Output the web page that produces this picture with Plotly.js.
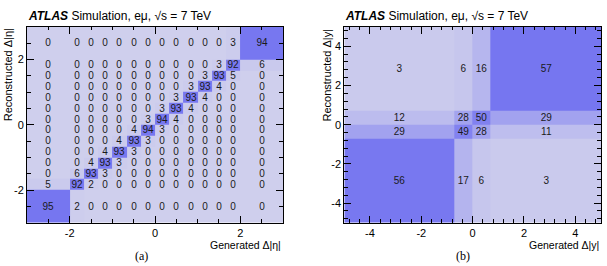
<!DOCTYPE html>
<html>
<head>
<meta charset="utf-8">
<script src="https://cdn.plot.ly/plotly-3.0.1.min.js"></script>
<style>
  html, body { margin: 0; padding: 0; background: #fff; }
  #chart { width: 607px; height: 266px; }
</style>
</head>
<body>
<div id="chart"></div>
<script>
// Migration matrix for Delta|eta| (percent), rows = reconstructed bins (bottom to top)
const etaEdges = [-3, -2, -1.6667, -1.3333, -1, -0.6667, -0.3333, 0,
                  0.3333, 0.6667, 1, 1.3333, 1.6667, 2, 3];
const etaMatrix = [
  [95,  2,  0,  0,  0,  0,  0,  0,  0,  0,  0,  0,  0,  0],
  [ 5, 92,  2,  0,  0,  0,  0,  0,  0,  0,  0,  0,  0,  0],
  [ 0,  6, 93,  3,  0,  0,  0,  0,  0,  0,  0,  0,  0,  0],
  [ 0,  0,  4, 93,  3,  0,  0,  0,  0,  0,  0,  0,  0,  0],
  [ 0,  0,  0,  4, 93,  3,  0,  0,  0,  0,  0,  0,  0,  0],
  [ 0,  0,  0,  0,  4, 93,  3,  0,  0,  0,  0,  0,  0,  0],
  [ 0,  0,  0,  0,  0,  4, 94,  3,  0,  0,  0,  0,  0,  0],
  [ 0,  0,  0,  0,  0,  0,  3, 94,  4,  0,  0,  0,  0,  0],
  [ 0,  0,  0,  0,  0,  0,  0,  3, 93,  4,  0,  0,  0,  0],
  [ 0,  0,  0,  0,  0,  0,  0,  0,  3, 93,  4,  0,  0,  0],
  [ 0,  0,  0,  0,  0,  0,  0,  0,  0,  3, 93,  4,  0,  0],
  [ 0,  0,  0,  0,  0,  0,  0,  0,  0,  0,  3, 93,  5,  0],
  [ 0,  0,  0,  0,  0,  0,  0,  0,  0,  0,  0,  3, 92,  6],
  [ 0,  0,  0,  0,  0,  0,  0,  0,  0,  0,  0,  0,  3, 94]
];

// Migration matrix for Delta|y| (percent)
const yEdges = [-5, -0.7, 0, 0.7, 5];
const yMatrix = [
  [56, 17,  6,  3],
  [29, 49, 28, 11],
  [12, 28, 50, 29],
  [ 3,  6, 16, 57]
];

const etaTicks = [-2, 0, 2];
const yTicks = [-4, -2, 0, 2, 4];

const FONT = 'Liberation Sans, Arial, sans-serif';
const cellScale = [[0, 'rgb(207,207,237)'], [1, 'rgb(118,118,240)']];

function matrixTrace(edges, z, xa, ya, zmax) {
  return {
    type: 'heatmap',
    x: edges, y: edges, z: z,
    xaxis: xa, yaxis: ya,
    colorscale: cellScale, zmin: 0, zmax: zmax,
    showscale: false, hoverinfo: 'skip',
    texttemplate: '%{z}',
    textfont: { family: FONT, size: 10, color: '#1a1a1a' }
  };
}

function axis(domain, range, ticks, minorStep, anchor) {
  return {
    domain: domain, range: range, anchor: anchor,
    tickmode: 'array', tickvals: ticks, ticktext: ticks.map(String),
    ticks: 'inside', ticklen: 7, tickwidth: 1, tickcolor: '#000',
    minor: { dtick: minorStep, ticks: 'inside', ticklen: 3.5, tickcolor: '#000', showgrid: false },
    showline: true, linecolor: '#000', linewidth: 1, mirror: 'ticks',
    showgrid: false, zeroline: false,
    tickfont: { family: FONT, size: 11, color: '#000' }
  };
}

const yDom = [0.1628, 0.8996];
const xDomA = [0.0445, 0.4662];
const xDomB = [0.5672, 0.9901];

const data = [
  matrixTrace(etaEdges, etaMatrix, 'x', 'y', 95),
  matrixTrace(yEdges, yMatrix, 'x2', 'y2', 57)
];

const titleText = '<b><i>ATLAS</i></b> Simulation, eμ, √s = 7 TeV';
const titleFont = { family: FONT, size: 12, color: '#000' };
const labelFont = { family: FONT, size: 11, color: '#000' };
const genFont = { family: FONT, size: 10.5, color: '#000' };
const captionFont = { family: 'Liberation Serif, DejaVu Serif, serif', size: 12, color: '#000' };

const annotations = [
  { text: titleText, xref: 'paper', yref: 'paper', x: xDomA[0] - 0.002, y: 0.94,
    xanchor: 'left', yanchor: 'middle', showarrow: false, font: titleFont },
  { text: titleText, xref: 'paper', yref: 'paper', x: xDomB[0] - 0.002, y: 0.94,
    xanchor: 'left', yanchor: 'middle', showarrow: false, font: titleFont },
  { text: 'Reconstructed Δ|η|', xref: 'paper', yref: 'paper', x: 0.0, y: yDom[1],
    xanchor: 'left', yanchor: 'top', textangle: -90, showarrow: false, font: labelFont },
  { text: 'Reconstructed Δ|y|', xref: 'paper', yref: 'paper', x: 0.526, y: yDom[1],
    xanchor: 'left', yanchor: 'top', textangle: -90, showarrow: false, font: labelFont },
  { text: 'Generated Δ|η|', xref: 'paper', yref: 'paper', x: xDomA[1], y: 0.08,
    xanchor: 'right', yanchor: 'middle', showarrow: false, font: genFont },
  { text: 'Generated Δ|y|', xref: 'paper', yref: 'paper', x: xDomB[1], y: 0.08,
    xanchor: 'right', yanchor: 'middle', showarrow: false, font: genFont },
  { text: '(a)', xref: 'paper', yref: 'paper', x: 0.2323, y: 0.036,
    xanchor: 'center', yanchor: 'middle', showarrow: false, font: captionFont },
  { text: '(b)', xref: 'paper', yref: 'paper', x: 0.763, y: 0.036,
    xanchor: 'center', yanchor: 'middle', showarrow: false, font: captionFont }
];

const layout = {
  width: 607, height: 266,
  margin: { l: 0, r: 0, t: 0, b: 0 },
  paper_bgcolor: '#fff', plot_bgcolor: '#fff',
  showlegend: false,
  xaxis: axis(xDomA, [-3, 3], etaTicks, 0.5, 'y'),
  yaxis: axis(yDom, [-3, 3], etaTicks, 0.5, 'x'),
  xaxis2: axis(xDomB, [-5, 5], yTicks, 0.4, 'y2'),
  yaxis2: axis(yDom, [-5, 5], yTicks, 0.4, 'x2'),
  annotations: annotations
};

Plotly.newPlot('chart', data, layout, { staticPlot: true, displayModeBar: false });
</script>
</body>
</html>
